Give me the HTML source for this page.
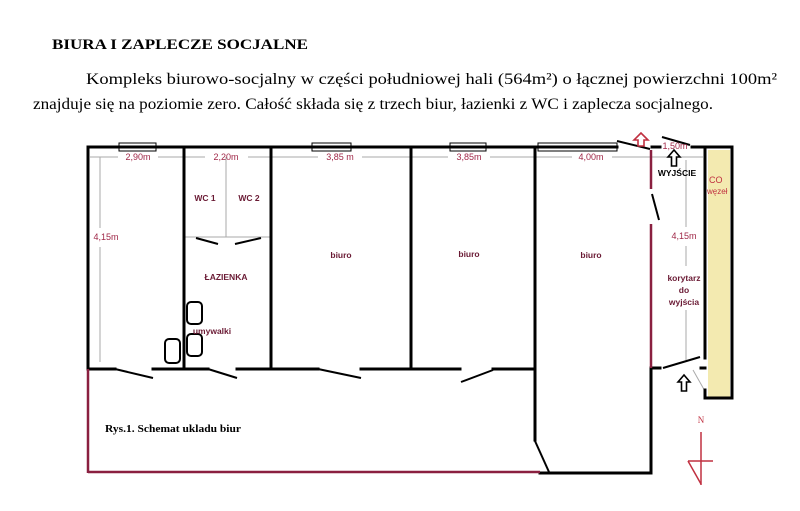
<!DOCTYPE html>
<html><head><meta charset="utf-8"><style>
html,body{margin:0;padding:0;background:#fff;}
svg{display:block;}
</style></head><body>
<svg width="800" height="511" viewBox="0 0 800 511" xmlns="http://www.w3.org/2000/svg">
<rect width="800" height="511" fill="#fff"/>
<g font-family="Liberation Serif, serif" fill="#000">
<text x="52" y="49" font-size="15" font-weight="bold" textLength="256" lengthAdjust="spacingAndGlyphs">BIURA I ZAPLECZE SOCJALNE</text>
<text x="86" y="84" font-size="16" textLength="691" lengthAdjust="spacingAndGlyphs">Kompleks biurowo-socjalny w części południowej hali (564m²) o łącznej powierzchni 100m²</text>
<text x="33" y="109" font-size="16" textLength="680" lengthAdjust="spacingAndGlyphs">znajduje się na poziomie zero. Całość składa się z trzech biur, łazienki z WC i zaplecza socjalnego.</text>
<text x="105" y="432" font-size="11" font-weight="bold" textLength="136" lengthAdjust="spacingAndGlyphs">Rys.1. Schemat ukladu biur</text>
</g>
<rect x="708" y="150" width="22" height="247" fill="#f3eab0"/>
<g stroke="#aaa" stroke-width="1">
<line x1="90" y1="157" x2="118" y2="157"/><line x1="158" y1="157" x2="205" y2="157"/>
<line x1="248" y1="157" x2="318" y2="157"/><line x1="362" y1="157" x2="448" y2="157"/>
<line x1="490" y1="157" x2="572" y2="157"/><line x1="612" y1="157" x2="703" y2="157"/>
<line x1="100" y1="157" x2="100" y2="228"/><line x1="100" y1="247" x2="100" y2="362"/>
<line x1="226" y1="157" x2="226" y2="237"/><line x1="184" y1="237" x2="271" y2="237"/>
<line x1="686" y1="160" x2="686" y2="227"/><line x1="686" y1="246" x2="686" y2="266"/><line x1="686" y1="310" x2="686" y2="360"/>
<line x1="693" y1="370" x2="706" y2="393"/>
</g>
<g fill="none" stroke="#000" stroke-width="1">
<rect x="119" y="143" width="37" height="8"/><rect x="312" y="143" width="39" height="8"/>
<rect x="450" y="143" width="36" height="8"/><rect x="538" y="143" width="79" height="8"/>
<rect x="187" y="302" width="15" height="22" rx="4" stroke-width="2"/>
<rect x="187" y="334" width="15" height="22" rx="4" stroke-width="2"/>
<rect x="165" y="339" width="15" height="24" rx="4" stroke-width="2"/>
</g>
<g stroke="#000" stroke-width="3" fill="none" stroke-linecap="square">
<line x1="88" y1="147" x2="617" y2="147"/>
<line x1="88" y1="147" x2="88" y2="369"/>
<line x1="184" y1="147" x2="184" y2="369"/>
<line x1="271" y1="147" x2="271" y2="369"/>
<line x1="411" y1="147" x2="411" y2="369"/>
<line x1="535" y1="147" x2="535" y2="440"/>
<line x1="88" y1="369" x2="115" y2="369"/><line x1="153" y1="369" x2="208" y2="369"/>
<line x1="237" y1="369" x2="318" y2="369"/><line x1="361" y1="369" x2="460" y2="369"/>
<line x1="493" y1="369" x2="535" y2="369"/>
<line x1="652" y1="147" x2="660" y2="147"/><line x1="692" y1="147" x2="732" y2="147"/>
<polyline points="705,147 705,358"/>
<polyline points="705,390 705,398 732,398 732,147"/>
<line x1="651" y1="368" x2="651" y2="473"/><line x1="540" y1="473" x2="651" y2="473"/>
<line x1="651" y1="368" x2="660" y2="368"/><line x1="701" y1="368" x2="705" y2="368"/>
</g>
<g stroke="#000" stroke-width="2">
<line x1="115" y1="369" x2="153" y2="378"/><line x1="208" y1="369" x2="237" y2="378"/>
<line x1="318" y1="369" x2="361" y2="378"/><line x1="461" y1="382" x2="493" y2="370"/>
<line x1="196" y1="238" x2="218" y2="244"/><line x1="235" y1="244" x2="261" y2="238"/>
<line x1="617" y1="141" x2="650" y2="149"/><line x1="662" y1="137" x2="690" y2="145"/>
<line x1="652" y1="194" x2="659" y2="220"/><line x1="663" y1="368" x2="700" y2="357"/>
<line x1="535" y1="441" x2="549" y2="472"/>
</g>
<g stroke="#8a2040" stroke-width="2.5">
<line x1="651" y1="150" x2="651" y2="189"/><line x1="651" y1="224" x2="651" y2="368"/>
<line x1="88" y1="369" x2="88" y2="473"/><line x1="88" y1="472" x2="540" y2="472"/>
</g>
<path d="M641 133 L634 140 L638 140 L638 146 L644 146 L644 140 L648 140 Z" fill="#fff" stroke="#c03040" stroke-width="1.6"/>
<path d="M674 150 L668 157 L671.5 157 L671.5 166 L676.5 166 L676.5 157 L680 157 Z" fill="#fff" stroke="#000" stroke-width="1.6"/>
<path d="M684 375 L678 382 L681.5 382 L681.5 391 L686.5 391 L686.5 382 L690 382 Z" fill="#fff" stroke="#000" stroke-width="1.6"/>
<g stroke="#c03040" stroke-width="1.5" fill="none">
<line x1="701" y1="432" x2="701" y2="485"/><line x1="688" y1="461" x2="713" y2="461"/>
<line x1="688" y1="461" x2="701" y2="484"/>
</g>
<text x="701" y="423" font-family="Liberation Serif, serif" font-size="9" fill="#c03040" text-anchor="middle">N</text>
<g font-family="Liberation Sans, sans-serif" font-size="9" fill="#a02848" text-anchor="middle">
<text x="138" y="160">2,90m</text><text x="226" y="160">2,20m</text><text x="340" y="160">3,85 m</text>
<text x="469" y="160">3,85m</text><text x="591" y="160">4,00m</text><text x="675" y="149">1,50m</text>
<text x="106" y="240">4,15m</text><text x="684" y="239">4,15m</text>
</g>
<text x="709" y="183" font-family="Liberation Sans, sans-serif" font-size="9" fill="#c03040">CO</text>
<text x="707" y="194" font-family="Liberation Sans, sans-serif" font-size="8" fill="#c03040">węzeł</text>
<g font-family="Liberation Sans, sans-serif" font-size="8.5" fill="#6a1a34" font-weight="bold" text-anchor="middle">
<text x="205" y="201">WC 1</text><text x="249" y="201">WC 2</text>
<text x="226" y="280">ŁAZIENKA</text><text x="212" y="334">umywalki</text>
<text x="341" y="258">biuro</text><text x="469" y="257">biuro</text><text x="591" y="258">biuro</text>
<text x="684" y="281">korytarz</text><text x="684" y="293">do</text><text x="684" y="305">wyjścia</text>
</g>
<text x="677" y="176" font-family="Liberation Sans, sans-serif" font-size="8.5" font-weight="bold" fill="#000" text-anchor="middle">WYJŚCIE</text>
</svg>
</body></html>
